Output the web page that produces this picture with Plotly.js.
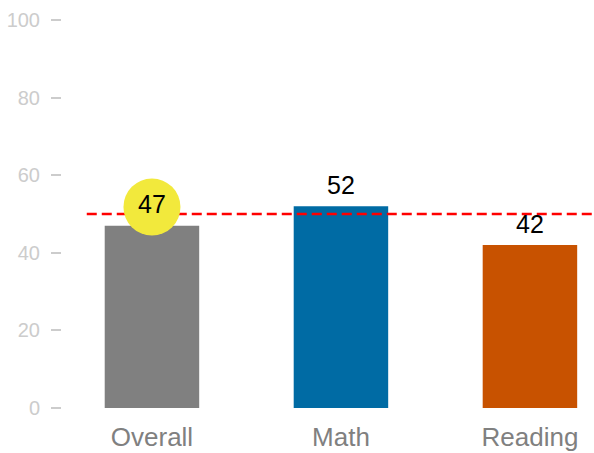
<!DOCTYPE html>
<html>
<head>
<meta charset="utf-8">
<script src="https://cdn.plot.ly/plotly-3.0.1.min.js"></script>
<style>html,body{margin:0;padding:0;background:#fff;}#chart{width:594px;height:453px;}</style>
</head>
<body>
<div id="chart"></div>
<script>
var categories = ['Overall', 'Math', 'Reading'];
var values = [47, 52, 42];
var barColors = ['#808080', '#006BA4', '#C85200'];
var benchmark = 50;
var highlighted = 'Overall';
var yTicks = [0, 20, 40, 60, 80, 100];

var xs = categories.map(function (c, i) { return i; });
var labelOffset = 4.8;
var labelY = values.map(function (v) { return v + labelOffset; });
var hi = categories.indexOf(highlighted);
var xRange = [-0.476, 2.339];

var traces = [
  {
    type: 'bar', x: xs, y: values, width: 0.5,
    marker: { color: barColors }, hoverinfo: 'skip', showlegend: false
  },
  {
    type: 'scatter', mode: 'lines', x: [-0.345, xRange[1]], y: [benchmark, benchmark],
    line: { color: '#FF0000', width: 2.5, dash: '10px,5px' }, hoverinfo: 'skip', showlegend: false
  },
  {
    type: 'scatter', mode: 'markers', x: [xs[hi]], y: [labelY[hi]],
    marker: { size: 57, color: '#F2E93C', line: { width: 0 } }, hoverinfo: 'skip', showlegend: false
  },
  {
    type: 'scatter', mode: 'text', x: xs, y: labelY,
    text: values.map(String), textposition: 'middle center',
    textfont: { family: 'Liberation Sans, Arial, sans-serif', size: 25, color: '#000000' },
    hoverinfo: 'skip', showlegend: false
  }
];

var layout = {
  width: 594, height: 453,
  margin: { l: 62, r: 0, t: 20, b: 45, pad: 0 },
  paper_bgcolor: '#ffffff', plot_bgcolor: '#ffffff',
  showlegend: false,
  xaxis: {
    range: xRange, tickvals: xs, ticktext: categories,
    showgrid: false, zeroline: false, showline: false, ticks: '',
    tickfont: { family: 'Liberation Sans, Arial, sans-serif', size: 26, color: '#808080' },
    ticklabelstandoff: 11
  },
  yaxis: {
    range: [0, 100], tickvals: yTicks,
    showgrid: false, zeroline: false, showline: false,
    ticks: 'outside', ticklen: 10, tickwidth: 2, tickcolor: '#cccccc',
    tickfont: { family: 'Liberation Sans, Arial, sans-serif', size: 20, color: '#cccccc' },
    ticklabelstandoff: 7
  }
};

Plotly.newPlot('chart', traces, layout, { displayModeBar: false, staticPlot: true });
</script>
</body>
</html>
